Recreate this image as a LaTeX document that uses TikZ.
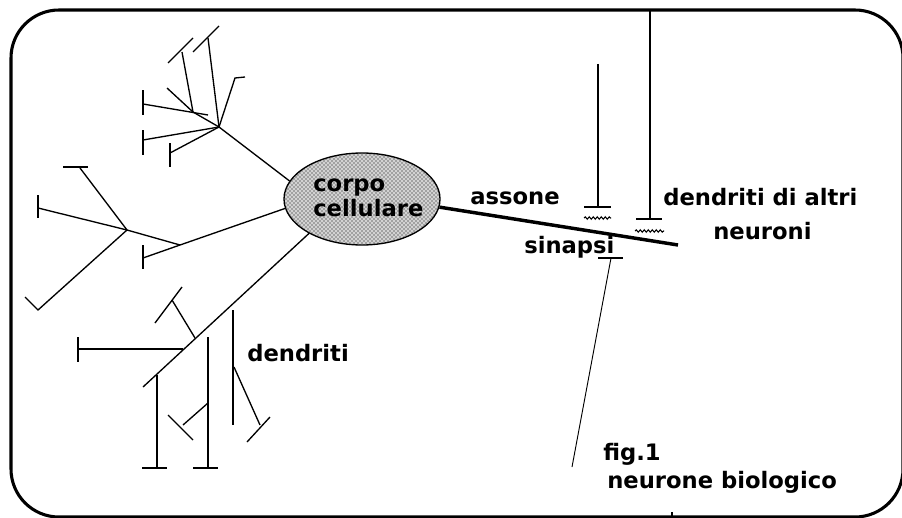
\documentclass[tikz,border=0pt]{standalone}
\usepackage{fontspec}
\setmainfont{DejaVu Sans}
\usetikzlibrary{shapes.geometric, patterns, decorations.pathmorphing, positioning}

\begin{document}
\begin{tikzpicture}[x=0.75pt, y=-0.75pt,
    frame/.style={line width=2.3pt, rounded corners=36pt},
    dend/.style={line width=1pt},
    axon/.style={line width=2.6pt},
    lbl/.style={font=\bfseries\fontsize{17}{20}\selectfont, inner sep=0pt, anchor=base west},
    soma/.style={ellipse, draw, line width=1pt, minimum width=117pt, minimum height=69pt, inner sep=0pt,
      preaction={fill=gray!35}, pattern=crosshatch dots},
    vesicle/.style={decorate, decoration={snake, segment length=3pt, amplitude=0.9pt}, line width=0.8pt}
  ]
  \clip (0,0) rectangle (902,517);

  % --- FRAME ---
  \draw[frame] (11,10) rectangle (903,517);
  \draw[dend] (672,512) -- (672,517);

  % --- CELL BODY ---
  \node[soma] (soma) at (362,199) {};
  \node[lbl] (corpo) at (313,191) {corpo};
  \node[lbl] (cellulare) at (313,216) {cellulare};

  % --- UPPER DENDRITIC TREE ---
  \coordinate (ua) at (219,127);
  \coordinate (ub) at (193,112);
  \draw[dend] (soma.166) -- (ua);
  \draw[dend] (ua) -- (208,38);
  \draw[dend] (193,52) -- (219,26);
  \draw[dend] (ua) -- (235,78) -- (245,77);
  \draw[dend] (ua) -- (143,140);
  \draw[dend] (143,130) -- (143,155);
  \draw[dend] (ua) -- (170,153);
  \draw[dend] (170,143) -- (170,167);
  \draw[dend] (ua) -- (ub);
  \draw[dend] (ub) -- (182,52);
  \draw[dend] (168,63) -- (193,38);
  \draw[dend] (ub) -- (167,88);
  \draw[dend] (143,104) -- (208,115);
  \draw[dend] (143,90) -- (143,115);

  % --- MIDDLE DENDRITIC TREE ---
  \coordinate (ma) at (180,245);
  \coordinate (mb) at (127,230);
  \draw[dend] (soma.187) -- (ma) -- (mb);
  \draw[dend] (mb) -- (80,168);
  \draw[dend] (63,167) -- (88,167);
  \draw[dend] (mb) -- (38,208);
  \draw[dend] (38,195) -- (38,218);
  \draw[dend] (mb) -- (38,310) -- (25,297);
  \draw[dend] (ma) -- (143,258);
  \draw[dend] (143,245) -- (143,269);

  % --- LOWER DENDRITIC TREE ---
  \coordinate (la) at (143,387);
  \draw[dend] (soma.213) -- (la);
  \draw[dend] (195,338) -- (172,300);
  \draw[dend] (155,323) -- (182,287);
  \draw[dend] (183,349) -- (78,349);
  \draw[dend] (78,337) -- (78,362);
  \draw[dend] (157,375) -- (157,468);
  \draw[dend, line width=1.4pt] (142,468) -- (167,468);
  \draw[dend] (208,337) -- (208,468);
  \draw[dend, line width=1.4pt] (193,468) -- (218,468);
  \draw[dend] (208,403) -- (183,425);
  \draw[dend] (168,415) -- (193,440);
  \draw[dend] (233,310) -- (233,425);
  \draw[dend] (234,367) -- (260,425);
  \draw[dend] (247,442) -- (270,417);
  \node[lbl] (dendriti) at (247,361) {dendriti};

  % --- AXON AND SYNAPSES ---
  \coordinate (axend) at (678,245);
  \draw[axon] (soma.354) -- (axend);
  \node[lbl] (assone) at (470,204) {assone};

  \draw[dend] (598,64) -- (598,207);
  \draw[dend] (584,207) -- (611,207);
  \draw[vesicle] (584,218) -- (611,218);
  \draw[dend] (650,10) -- (650,219);
  \draw[dend] (636,219) -- (662,219);
  \draw[vesicle] (635,231) -- (664,231);

  \node[lbl] (altri) at (663,205) {dendriti di altri};
  \node[lbl] (neuroni) at (713,239) {neuroni};

  \node[lbl] (sinapsi) at (524,253) {sinapsi};
  \coordinate (ptr) at (572,467);
  \draw[dend] (598,258) -- (623,258);
  \draw[dend, line width=0.7pt] (611,258) -- (ptr);

  % --- CAPTION ---
  \node[lbl] (fig) at (603,460) {fig.1};
  \node[lbl] (figcap) at (607,488) {neurone biologico};
\end{tikzpicture}
\end{document}
